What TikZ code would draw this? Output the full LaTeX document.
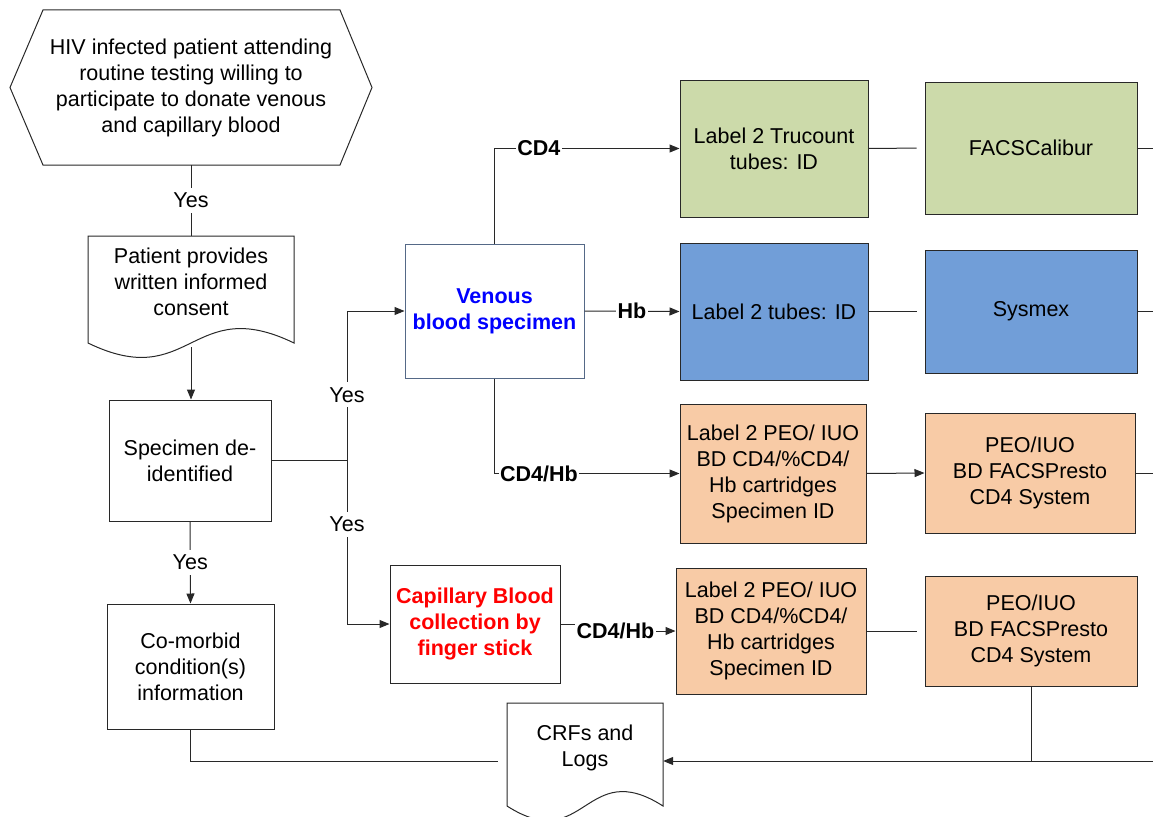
\documentclass[tikz,border=0pt]{standalone}
\usepackage{fontspec}
\setmainfont{Liberation Sans}
\usetikzlibrary{arrows.meta}
\definecolor{gfill}{RGB}{204,218,170}
\definecolor{bfill}{RGB}{113,158,216}
\definecolor{ofill}{RGB}{248,203,166}
\definecolor{venborder}{RGB}{85,105,135}
\definecolor{ln}{RGB}{40,40,40}
\definecolor{vblue}{RGB}{0,0,255}
\definecolor{cred}{RGB}{255,0,0}
\begin{document}
\begin{tikzpicture}[x=1pt,y=-1pt,
  font=\fontsize{21.5}{26}\selectfont,
  box/.style={draw=ln, line width=1pt, rectangle, inner sep=0pt, align=center},
  txt/.style={inner sep=0pt, align=center},
  conn/.style={draw=ln, line width=1pt},
  arr/.style={conn, -{Triangle[length=10pt,width=8pt]}},
  lbl/.style={fill=white, inner sep=1.5pt, font=\fontsize{21.5}{26}\selectfont\bfseries},
  yes/.style={fill=white, inner sep=5pt}
]
\useasboundingbox (0,0) rectangle (1153,816);
\coordinate (edge) at (1153,0);

% start hexagon
\draw[ln, line width=1pt] (10,87.5) -- (43,10) -- (340,10) -- (372,87.5) -- (340,165) -- (43,165) -- cycle;
\node[txt, minimum width=362pt, minimum height=155pt] (hex) at (191,87.5)
  {HIV infected patient attending\\routine testing willing to\\participate to donate venous\\and capillary blood};

% consent document
\draw[ln, line width=1pt] (88,236) -- (294,236) -- (294,343) .. controls (191,293) and (191,393) .. (88,343) -- cycle;
\node[txt, minimum width=206pt, minimum height=111pt] (doc1) at (191,291.5) {};
\node[txt] (doc1txt) at (191,282) {Patient provides\\written informed\\consent};

% left column boxes
\node[box, minimum width=162pt, minimum height=121pt] (spec) at (190,460.5) {Specimen de-\\identified};
\node[box, minimum width=167pt, minimum height=125pt] (como) at (190.5,666.5) {Co-morbid\\condition(s)\\information};

% specimen boxes
\node[box, draw=venborder, minimum width=179pt, minimum height=134pt, font=\fontsize{21.5}{26}\selectfont\bfseries, text=vblue] (ven) at (494.5,311) {Venous\\blood specimen};
\node[box, minimum width=170pt, minimum height=118pt, font=\fontsize{21.5}{26}\selectfont\bfseries, text=cred] (cap) at (475,624) {Capillary Blood\\collection by\\finger stick};

% label boxes
\node[box, fill=gfill, minimum width=188pt, minimum height=137pt] (g1) at (774,148.5) {Label 2 Trucount\\tubes: ID};
\node[box, fill=bfill, minimum width=188pt, minimum height=137pt] (b1) at (774,311.5) {Label 2 tubes: ID};
\node[box, fill=ofill, minimum width=186pt, minimum height=139pt] (o1) at (773,473.5) {Label 2 PEO/ IUO\\BD CD4/\%CD4/\\Hb cartridges\\Specimen ID};
\node[box, fill=ofill, minimum width=190pt, minimum height=126pt] (o2) at (771,631) {Label 2 PEO/ IUO\\BD CD4/\%CD4/\\Hb cartridges\\Specimen ID};

% instrument boxes
\node[box, fill=gfill, minimum width=212pt, minimum height=132pt] (fc) at (1031,148) {FACSCalibur};
\node[box, fill=bfill, minimum width=212pt, minimum height=123pt] (sy) at (1031,311.5) {Sysmex};
\node[box, fill=ofill, minimum width=210pt, minimum height=120pt] (p1) at (1030,473) {PEO/IUO\\BD FACSPresto\\CD4 System};
\node[box, fill=ofill, minimum width=212pt, minimum height=110pt] (p2) at (1031,631) {PEO/IUO\\BD FACSPresto\\CD4 System};

% CRFs document
\draw[ln, line width=1pt] (507,703) -- (663,703) -- (663,806) .. controls (585,756) and (585,856) .. (507,806) -- cycle;
\node[txt, minimum width=156pt, minimum height=116pt] (crf) at (585,761) {};
\node[txt] (crftxt) at (585,748) {CRFs and\\Logs};

% connectors
\draw[conn] (hex.south) -- node[yes]{Yes} (doc1.north);
\draw[arr] (doc1.south) -- (doc1.south |- spec.north);
\draw[arr] (spec.south) -- node[yes]{Yes} (como.north);

\coordinate (br) at (347,460.5);
\draw[conn] (spec.east) -- (br);
\draw[arr] (br) |- node[yes,pos=0.22]{Yes} (ven.west);
\draw[arr] (br) |- node[yes,pos=0.195]{Yes} (cap.west);

\draw[arr] (ven.north) |- node[lbl,pos=0.62]{CD4} (g1.west);
\draw[arr] (ven.east) -- node[lbl]{Hb} (b1.west);
\draw[arr] (ven.south) |- node[lbl,pos=0.62]{CD4/Hb} (o1.west);
\draw[arr] (cap.east) -- ++(15,0) |- node[lbl,pos=0.7]{CD4/Hb} (o2.west);

\draw[conn, shorten >=8pt] (g1.east) -- (fc.west);
\draw[conn, shorten >=8pt] (b1.east) -- (sy.west);
\draw[arr] (o1.east) -- (p1.west);
\draw[conn, shorten >=8pt] (o2.east) -- (p2.west);

\draw[conn] (fc.east) -- (fc.east -| edge);
\draw[conn] (sy.east) -- (sy.east -| edge);
\draw[conn] (p1.east) -- (p1.east -| edge);

\draw[arr] (crf.east -| edge) -- (crf.east);
\draw[conn] (p2.south) -- (p2.south |- crf.east);
\draw[conn, shorten >=9pt] (como.south) |- (crf.west);
\end{tikzpicture}
\end{document}
